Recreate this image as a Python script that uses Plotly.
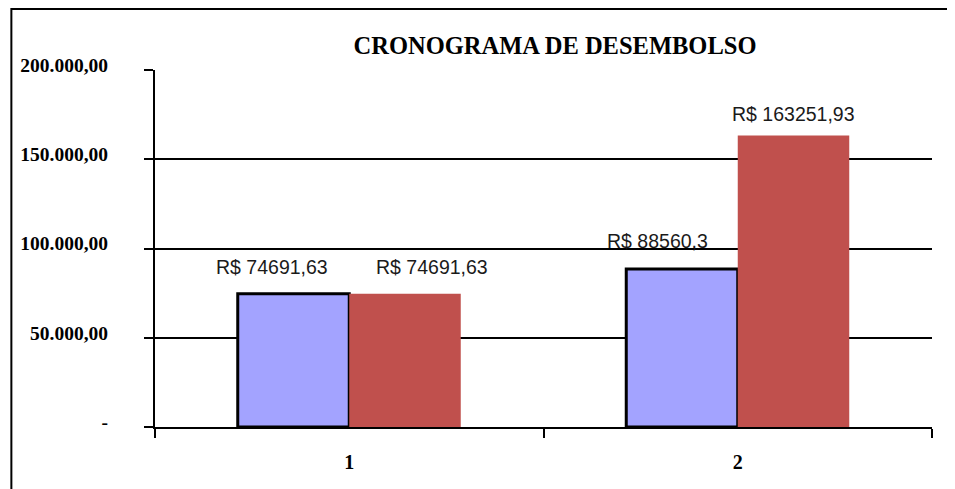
import plotly.graph_objects as go

categories = ["1", "2"]
parcela = [74691.63, 88560.3]
acumulado = [74691.63, 163251.93]
parcela_labels = ["R$ 74691,63", "R$ 88560,3"]
acumulado_labels = ["R$ 74691,63", "R$ 163251,93"]
y_tickvals = [0, 50000, 100000, 150000, 200000]
y_ticktext = ["-", "50.000,00", "100.000,00", "150.000,00", "200.000,00"]

SERIF = "Liberation Serif, Times New Roman, serif"
SANS = "Liberation Sans, Arial, sans-serif"

fig = go.Figure()
fig.add_trace(go.Bar(
    x=categories, y=parcela, name="Parcela",
    marker=dict(color="#A3A3FF", line=dict(color="black", width=3)),
))
fig.add_trace(go.Bar(
    x=categories, y=acumulado, name="Acumulado",
    marker=dict(color="#C0504D", line=dict(width=0)),
))

# label pixel offsets (styling), as placed in the original chart
parcela_shift = [(-77, 14), (-80, 15)]
acumulado_shift = [(83, 14), (56, 9)]

for i, (v, t) in enumerate(zip(parcela, parcela_labels)):
    fig.add_annotation(x=i, y=v, xref="x", yref="y", text=t, showarrow=False,
                       xshift=parcela_shift[i][0], yshift=parcela_shift[i][1],
                       yanchor="bottom",
                       font=dict(family=SANS, size=19.5, color="#1a1a1a"))
for i, (v, t) in enumerate(zip(acumulado, acumulado_labels)):
    fig.add_annotation(x=i, y=v, xref="x", yref="y", text=t, showarrow=False,
                       xshift=acumulado_shift[i][0], yshift=acumulado_shift[i][1],
                       yanchor="bottom",
                       font=dict(family=SANS, size=19.5, color="#1a1a1a"))

# page body has an 8px margin, so the figure is offset by 8px
W, H = 947, 481
L, R, T, B = 145, 23, 62, 62
pw, ph = W - L - R, H - T - B

# outer chart border
fig.add_shape(type="rect", xref="paper", yref="paper",
              x0=(1 - L) / pw, x1=(W + 10 - L) / pw,
              y0=-(B + 10) / ph, y1=(H - B - 1) / ph,
              line=dict(color="black", width=2), layer="below")

fig.update_layout(
    width=W, height=H,
    margin=dict(l=L, r=R, t=T, b=B),
    paper_bgcolor="white", plot_bgcolor="white",
    barmode="group", bargap=0.426, bargroupgap=0,
    showlegend=False,
    title=dict(text="<b>CRONOGRAMA DE DESEMBOLSO</b>",
               font=dict(family=SERIF, size=24.5, color="black"),
               x=(546 - L) / pw, xref="paper", xanchor="center",
               y=1 - 37 / H, yref="container", yanchor="middle"),
    xaxis=dict(
        type="category", showline=True, linecolor="black", linewidth=2,
        ticks="outside", tickson="boundaries", ticklen=9, tickwidth=2, tickcolor="black",
        showgrid=False, ticklabelstandoff=16,
        tickfont=dict(family=SERIF, size=20, color="black", weight="bold"),
    ),
    yaxis=dict(
        range=[0, 200000], tickvals=y_tickvals, ticktext=y_ticktext,
        showline=True, linecolor="black", linewidth=2,
        ticks="outside", ticklen=9, tickwidth=2, tickcolor="black",
        showgrid=True, gridcolor="black", gridwidth=2, zeroline=False,
        ticklabelstandoff=32, ticklabelshift=-5,
        tickfont=dict(family=SERIF, size=19.5, color="black", weight="bold"),
    ),
)

fig.write_html("out.html")
